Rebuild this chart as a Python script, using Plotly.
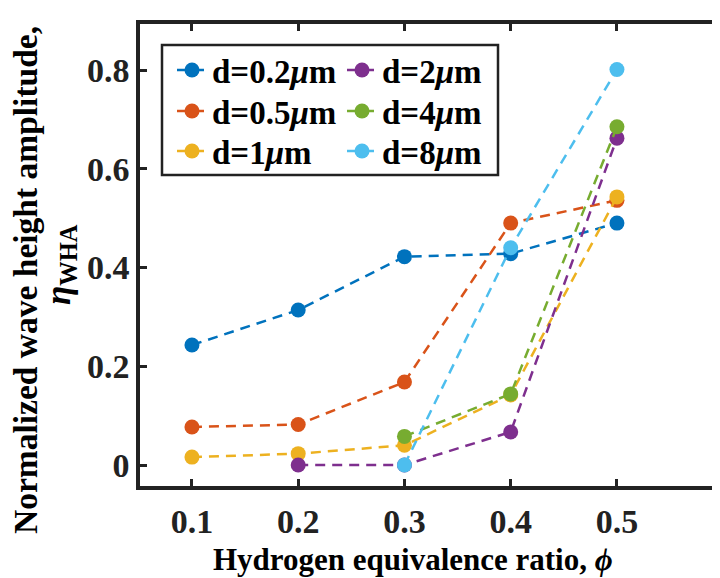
import plotly.graph_objects as go

# ---- data ----
phi = [0.1, 0.2, 0.3, 0.4, 0.5]
labels = ["d=0.2<i>μ</i>m", "d=0.5<i>μ</i>m", "d=1<i>μ</i>m", "d=2<i>μ</i>m", "d=4<i>μ</i>m", "d=8<i>μ</i>m"]
eta_d02 = [0.243, 0.314, 0.422, 0.428, 0.490]
eta_d05 = [0.077, 0.082, 0.168, 0.490, 0.536]
eta_d1 = [0.016, 0.023, 0.040, 0.142, 0.543]
eta_d2 = [None, 0.0, 0.0, 0.067, 0.662]
eta_d4 = [None, None, 0.058, 0.144, 0.685]
eta_d8 = [None, None, 0.0, 0.440, 0.801]
series = [eta_d02, eta_d05, eta_d1, eta_d2, eta_d4, eta_d8]
colors = ["#0072BD", "#D95319", "#EDB120", "#7E2F8E", "#77AC30", "#4DBEEE"]
xticks = [0.1, 0.2, 0.3, 0.4, 0.5]
yticks = [0, 0.2, 0.4, 0.6, 0.8]

FONT = "Liberation Serif"
OFF = 8  # page body margin
W, H = 720 - OFF, 578 - OFF
L, R, T, B = 132, 0, 16, 92
PW, PH = W - L - R, H - T - B


def xp(px):
    return (px - OFF - L) / PW


def yp(py):
    return (H - B - (py - OFF)) / PH


fig = go.Figure()
legend_names = ["legend", "legend2", "legend3", "legend4", "legend5", "legend6"]
for i, (ys, c, lab) in enumerate(zip(series, colors, labels)):
    fig.add_trace(go.Scatter(
        x=phi, y=ys, name=lab, mode="lines+markers",
        line=dict(color=c, width=2.5, dash="10px,7px"),
        marker=dict(color=c, size=15, line=dict(width=0)),
        connectgaps=False,
        legend=legend_names[i],
    ))

# legend positions (col, row)
col_x = [172, 172, 172, 342, 342, 342]
row_y = [70, 111, 151, 70, 111, 151]
legend_layouts = {}
for i, name in enumerate(legend_names):
    legend_layouts[name] = dict(
        x=xp(col_x[i]), y=yp(row_y[i]), xanchor="left", yanchor="middle",
        xref="paper", yref="paper",
        bgcolor="rgba(0,0,0,0)", borderwidth=0,
        font=dict(family=FONT, size=33, color="black", weight="bold"),
    )

fig.update_layout(
    width=W, height=H,
    margin=dict(l=L, r=R, t=T, b=B),
    paper_bgcolor="white", plot_bgcolor="white",
    showlegend=True,
    **legend_layouts,
    xaxis=dict(
        range=[0.0511, 0.597], tickvals=xticks, ticktext=[str(v) for v in xticks],
        showgrid=False, zeroline=False,
        showline=True, linecolor="#222", linewidth=3.5, mirror="ticks",
        ticks="inside", ticklen=7, tickwidth=3, tickcolor="#222",
        tickfont=dict(family=FONT, size=34, color="#222", weight="bold"),
        ticklabelstandoff=2,
    ),
    yaxis=dict(
        range=[-0.0425, 0.8932], tickvals=yticks, ticktext=["0", "0.2", "0.4", "0.6", "0.8"],
        showgrid=False, zeroline=False,
        showline=True, linecolor="#222", linewidth=3.5,
        ticks="inside", ticklen=7, tickwidth=3, tickcolor="#222",
        tickfont=dict(family=FONT, size=34, color="#222", weight="bold"),
        ticklabelstandoff=0,
    ),
)

# legend box
fig.add_shape(type="rect", xref="paper", yref="paper",
              x0=xp(162), x1=xp(498), y0=yp(175), y1=yp(45),
              line=dict(color="#222", width=2.5), fillcolor="white", layer="above")

# axis titles
fig.add_annotation(text="Hydrogen equivalence ratio, <i>ϕ</i>", xref="paper", yref="paper",
                   x=xp(412.5), y=yp(559), xanchor="center", yanchor="middle", showarrow=False,
                   font=dict(family=FONT, size=31, color="black", weight="bold"))
fig.add_annotation(text="Normalized wave height amplitude,", xref="paper", yref="paper",
                   x=xp(25), y=yp(280), xanchor="center", yanchor="middle", showarrow=False,
                   textangle=-90,
                   font=dict(family=FONT, size=33.5, color="black", weight="bold"))
fig.add_annotation(text="<i>η</i><sub>WHA</sub>", xref="paper", yref="paper",
                   x=xp(60), y=yp(265), xanchor="center", yanchor="middle", showarrow=False,
                   textangle=-90,
                   font=dict(family=FONT, size=35, color="black", weight="bold"))

fig.write_html("out.html")
